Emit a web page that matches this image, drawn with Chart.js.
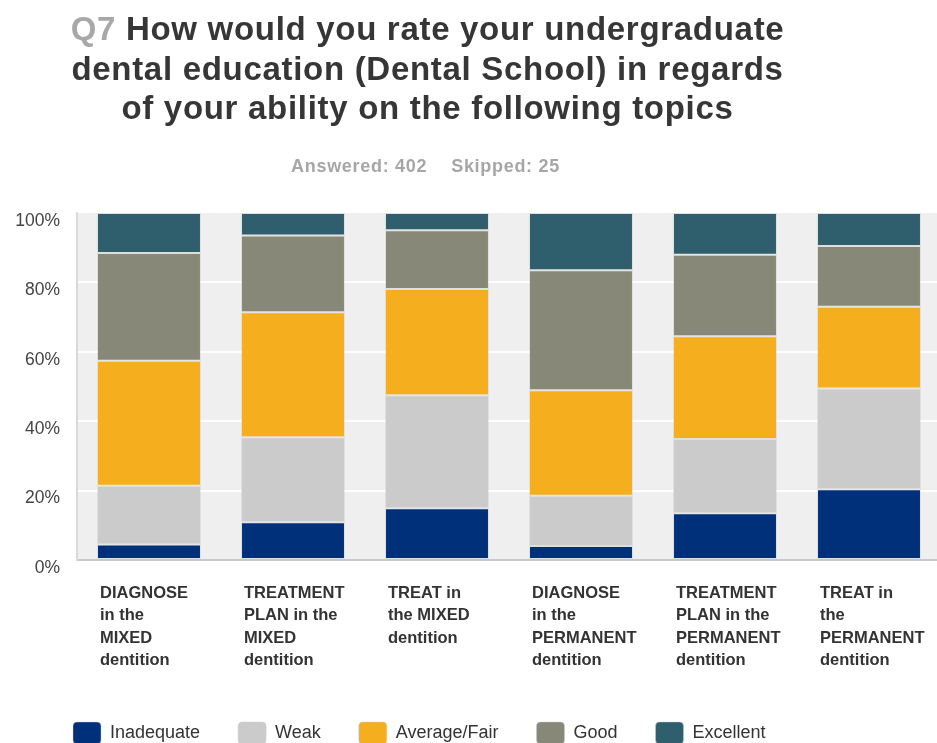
<!DOCTYPE html>
<html lang="en">
<head>
<meta charset="UTF-8">
<title>Q7 – Undergraduate dental education</title>
<script src="https://cdn.jsdelivr.net/npm/chart.js"></script>
    <style>
        * {
        margin: 0;
        padding: 0;
        box-sizing: border-box;
        }

        html, body {
        width: 937px;
        height: 743px;
        overflow: hidden;
        background: #fff;
        font-family: 'Liberation Sans', Arial, sans-serif;
        }

        .title {
        position: absolute;
        left: 0;
        top: 9px;
        width: 855px;
        text-align: center;
        font-size: 33px;
        line-height: 39.5px;
        letter-spacing: 0.7px;
        font-weight: bold;
        color: #363636;
        }

        .title .num {
        color: #a8a8a8;
        }

        .stats {
        position: absolute;
        left: 0;
        top: 156px;
        width: 851px;
        text-align: center;
        font-size: 18px;
        line-height: 20px;
        font-weight: bold;
        color: #a6a6a6;
        letter-spacing: 0.7px;
        }

        .stats span + span {
        margin-left: 24px;
        }

        .chart-box {
        position: absolute;
        left: 0;
        top: 0;
        width: 941px;
        height: 743px;
        }
    </style>
</head>
<body>

    <div class="chart-box"><canvas id="chart"></canvas></div>

    <div class="title">
        <span class="num">Q7</span> How would you rate your undergraduate<br>
        dental education (Dental School) in regards<br>
        of your ability on the following topics
    </div>
    <div class="stats"><span>Answered: 402</span><span>Skipped: 25</span></div>

    <script>
        const topics = [
            ['DIAGNOSE', 'in the', 'MIXED', 'dentition'],
            ['TREATMENT', 'PLAN in the', 'MIXED', 'dentition'],
            ['TREAT in', 'the MIXED', 'dentition'],
            ['DIAGNOSE', 'in the', 'PERMANENT', 'dentition'],
            ['TREATMENT', 'PLAN in the', 'PERMANENT', 'dentition'],
            ['TREAT in', 'the', 'PERMANENT', 'dentition']
        ];

        // share of answers, % per topic
        const inadequate = [4.5, 10.9, 14.9, 4.0, 13.5, 20.4];
        const weak       = [16.9, 24.5, 32.6, 14.5, 21.4, 29.0];
        const average    = [36.0, 36.0, 30.6, 30.4, 29.6, 23.6];
        const good       = [31.1, 22.1, 16.9, 34.6, 23.5, 17.5];
        const excellent  = [11.5, 6.5, 5.0, 16.5, 12.0, 9.5];

        const yTicks = [0, 20, 40, 60, 80, 100];

        const FONT = "'Liberation Sans', Arial, sans-serif";

        function series(label, data, color) {
            return {
                label: label,
                data: data,
                backgroundColor: color,
                borderColor: 'rgba(205,205,205,0.45)',
                borderWidth: 1,
                borderSkipped: false,
                barPercentage: 0.722,
                categoryPercentage: 1
            };
        }

        // grey plot background behind the bars
        const plotBg = {
            id: 'plotBg',
            beforeDraw(chart) {
                const a = chart.chartArea;
                const ctx = chart.ctx;
                ctx.save();
                ctx.fillStyle = '#efefef';
                ctx.fillRect(a.left, a.top, a.right - a.left, a.bottom - a.top);
                ctx.restore();
            }
        };

        // legend sits left-aligned under the labels
        const legendPlace = {
            id: 'legendPlace',
            afterLayout(chart) {
                chart.legend.left = 35;
                chart.legend.top = 684;
            }
        };

        new Chart(document.getElementById('chart'), {
            type: 'bar',
            data: {
                labels: topics,
                datasets: [
                    series('Inadequate', inadequate, '#00307a'),
                    series('Weak', weak, '#cbcbcb'),
                    series('Average/Fair', average, '#f5ae1e'),
                    series('Good', good, '#878877'),
                    series('Excellent', excellent, '#2f5f6c')
                ]
            },
            options: {
                responsive: true,
                maintainAspectRatio: false,
                animation: false,
                layout: { padding: { top: 213, left: 0, right: 0, bottom: 0 } },
                plugins: {
                    tooltip: { enabled: false },
                    legend: {
                        position: 'bottom',
                        align: 'start',
                        labels: {
                            boxWidth: 28,
                            boxHeight: 22,
                            useBorderRadius: true,
                            borderRadius: 4,
                            padding: 38,
                            color: '#333',
                            font: { family: FONT, size: 18 }
                        }
                    }
                },
                scales: {
                    x: {
                        stacked: true,
                        grid: { display: false, drawTicks: false },
                        border: { display: true, color: '#c9c9c9', width: 2 },
                        ticks: {
                            align: 'start',
                            labelOffset: -49,
                            padding: 22,
                            maxRotation: 0,
                            autoSkip: false,
                            color: '#333',
                            font: { family: FONT, size: 16.5, weight: 'bold', lineHeight: 1.364 }
                        },
                        afterFit(scale) {
                            // labels are shifted left onto the bars, no extra side room needed
                            scale.paddingLeft = 0;
                            scale.paddingRight = 0;
                            scale.height = 743 - 560 - scale.chart.legend.height;
                        }
                    },
                    y: {
                        stacked: true,
                        min: 0,
                        max: 100,
                        grid: {
                            drawTicks: false,
                            lineWidth: 2,
                            color: c => (c.tick.value % 100 === 0 ? 'rgba(0,0,0,0)' : '#ffffff')
                        },
                        border: { display: true, color: '#dadada', width: 2 },
                        ticks: {
                            stepSize: 10,
                            padding: 17,
                            labelOffset: 8,
                            color: '#444',
                            font: { family: FONT, size: 17.5 },
                            callback: v => (yTicks.includes(v) ? v + '%' : null)
                        },
                        afterFit(scale) {
                            scale.width = 77;
                        }
                    }
                }
            },
            plugins: [plotBg, legendPlace]
        });
    </script>
</body>
</html>
